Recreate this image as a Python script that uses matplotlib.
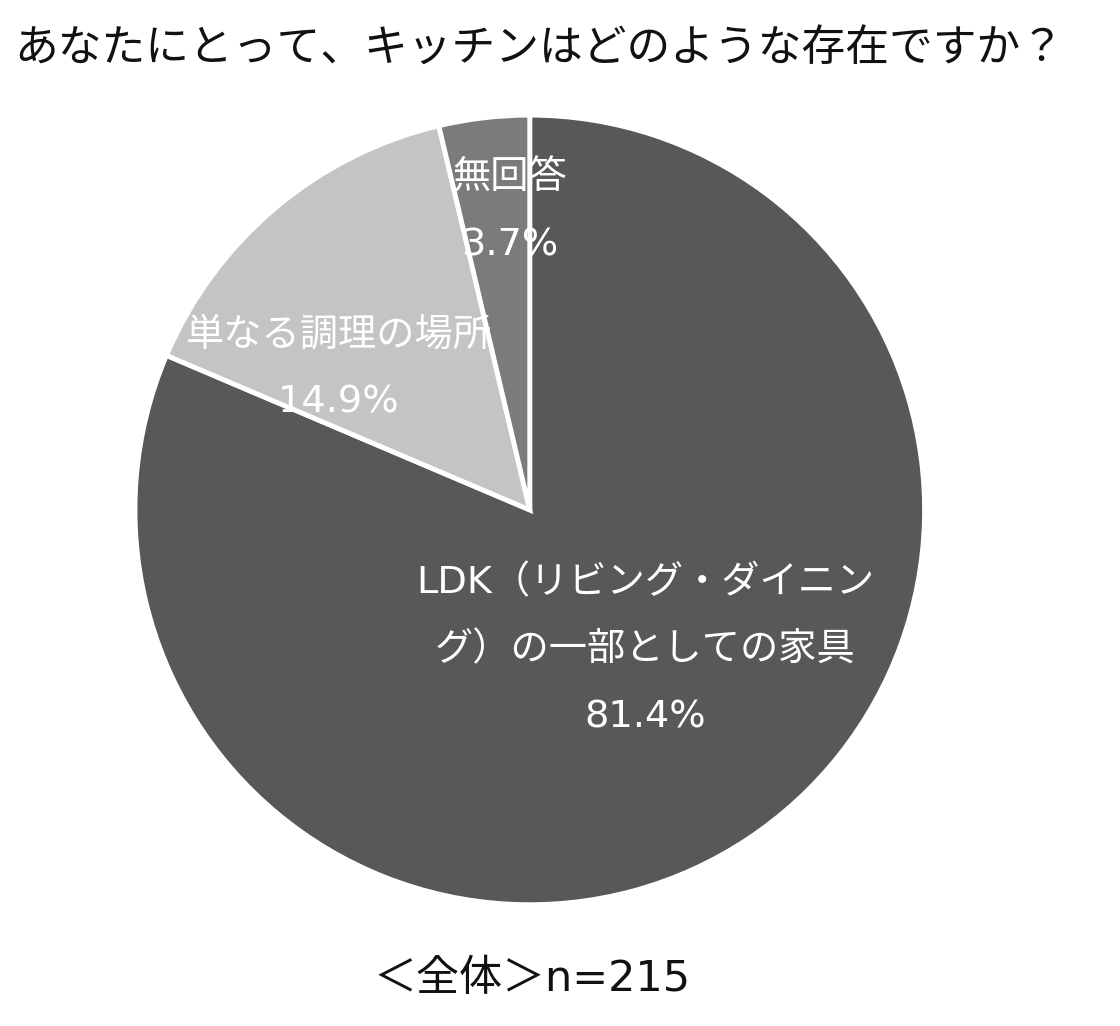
import matplotlib
matplotlib.use('Agg')
import matplotlib.pyplot as plt
import numpy as np

plt.rcParams['font.family'] = ['DejaVu Sans', 'Noto Sans CJK JP']

# データ
labels = ['LDK（リビング・ダイニン\nグ）の一部としての家具', '単なる調理の場所', '無回答']
values = [81.4, 14.9, 3.7]
colors = ['#585858', '#c4c4c4', '#7b7b7b']

title = 'あなたにとって、キッチンはどのような存在ですか？'
note = '＜全体＞n=215'


def report():
    fig = plt.figure(figsize=(11.2, 10.26), dpi=100)
    fig.text(0.013, 0.952, title, fontsize=31.5, ha='left', va='center', color='#111111')
    fig.text(0.475, 0.046, note, fontsize=31, ha='center', va='center', color='#111111')

    ax = fig.add_axes([0.1205, 0.118, 0.705, 0.77])
    wedges, _ = ax.pie(values, colors=colors, startangle=90, counterclock=False,
                       wedgeprops=dict(edgecolor='white', linewidth=3.5))
    ax.set_xlim(-1, 1)
    ax.set_ylim(-1, 1)
    ax.set_aspect('equal')

    # ラベル位置 (半径, 中央角からのずれ)
    pos = [(0.46, 6.0), (0.60, 13.5), (0.757, -2.8)]
    for w, lab, v, (r, off) in zip(wedges, labels, values, pos):
        ang = np.deg2rad((w.theta1 + w.theta2) / 2 + off)
        x, y = r * np.cos(ang), r * np.sin(ang)
        ax.text(x, y, lab + '\n' + f'{v}%', ha='center', va='center', color='white',
                fontsize=27.5, linespacing=2.1)

    fig.savefig('out.png', dpi=100)


if __name__ == '__main__':
    report()
